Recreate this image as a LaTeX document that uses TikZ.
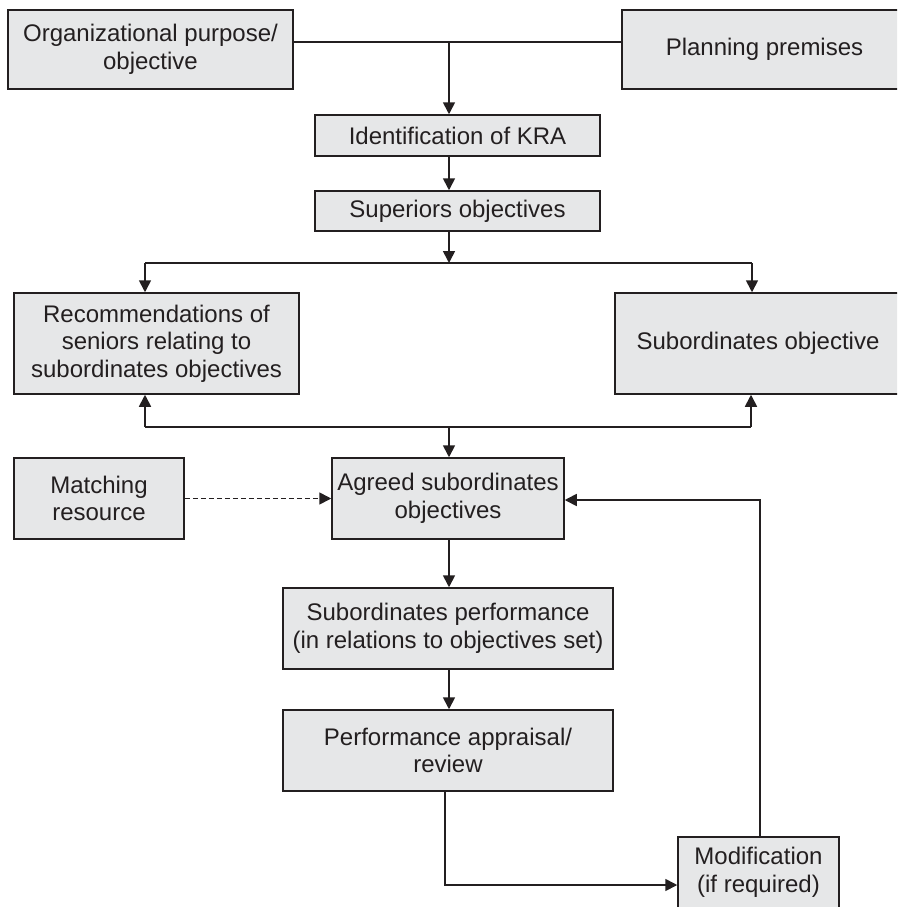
\documentclass[tikz,border=0pt]{standalone}
\usepackage{fontspec}
\setmainfont{Liberation Sans}
\usetikzlibrary{arrows.meta}
\definecolor{ink}{HTML}{231F20}
\definecolor{boxfill}{HTML}{E6E7E8}
\tikzset{
  box/.style={draw=ink, fill=boxfill, line width=1.5pt, inner sep=0pt,
    align=center, text=ink, font=\fontsize{24}{27.5}\selectfont},
  link/.style={draw=ink, line width=1.7pt},
  arr/.style={link, -{Triangle[length=12pt,width=12pt]}},
}
\begin{document}
\begin{tikzpicture}[x=1pt, y=-1pt]
\clip (0,0) rectangle (897,907);
\fill[white] (0,0) rectangle (897,907);

% boxes
\node[box, minimum width=285, minimum height=79] (org) at (150.5,49.5) {Organizational purpose/\\objective};
\node[box, minimum width=285, minimum height=79] (plan) at (764.5,49.5) {Planning premises};
\node[box, minimum width=285, minimum height=41] (kra) at (457.5,135.5) {Identification of KRA};
\node[box, minimum width=285, minimum height=40] (sup) at (457.5,211) {Superiors objectives};
\node[box, minimum width=285, minimum height=101] (rec) at (156.5,343.5) {Recommendations of\\seniors relating to\\subordinates objectives};
\node[box, minimum width=286, minimum height=101] (subobj) at (758,343.5) {Subordinates objective};
\node[box, minimum width=170, minimum height=81] (match) at (99,498.5) {Matching\\resource};
\node[box, minimum width=232, minimum height=81] (agreed) at (448,498.5) {Agreed subordinates\\objectives};
\node[box, minimum width=330, minimum height=81] (perf) at (448,628.5) {Subordinates performance\\(in relations to objectives set)};
\node[box, minimum width=330, minimum height=81] (appr) at (448,750.5) {Performance appraisal/\\review};
\node[box, minimum width=161, minimum height=71] (mod) at (758.5,872.5) {Modification\\(if required)};

% junction points
\coordinate (j1) at (449,42);
\coordinate (j2) at (449,263);
\coordinate (l2) at (145,263);
\coordinate (r2) at (752,263);
\coordinate (j3) at (449,427);
\coordinate (l3) at (145,427);
\coordinate (r3) at (751,427);
\coordinate (c4) at (445,885);
\coordinate (c5) at (760,500);

% top feed into KRA
\draw[link] (org.east |- j1) -- (plan.west |- j1);
\draw[arr] (j1) -- (j1 |- kra.north);
\draw[arr] (kra.south -| j1) -- (sup.north -| j1);

% split to recommendations and subordinates objective
\draw[arr] (sup.south -| j2) -- (j2);
\draw[link] (l2) -- (r2);
\draw[arr] (l2) -- (l2 |- rec.north);
\draw[arr] (r2) -- (r2 |- subobj.north);

% joint line back up and down into agreed objectives
\draw[link] (l3) -- (r3);
\draw[arr] (l3) -- (l3 |- rec.south);
\draw[arr] (r3) -- (r3 |- subobj.south);
\draw[arr] (j3) -- (j3 |- agreed.north);

% resources
\draw[arr, dash pattern=on 5pt off 3pt] (match.east) -- (agreed.west);

% main chain
\draw[arr] (agreed.south -| j3) -- (perf.north -| j3);
\draw[arr] (perf.south -| j3) -- (appr.north -| j3);

% review loop
\draw[arr] (appr.south -| c4) -- (c4) -- (mod.west |- c4);
\draw[arr] (mod.north -| c5) -- (c5) -- (agreed.east |- c5);
\end{tikzpicture}
\end{document}
